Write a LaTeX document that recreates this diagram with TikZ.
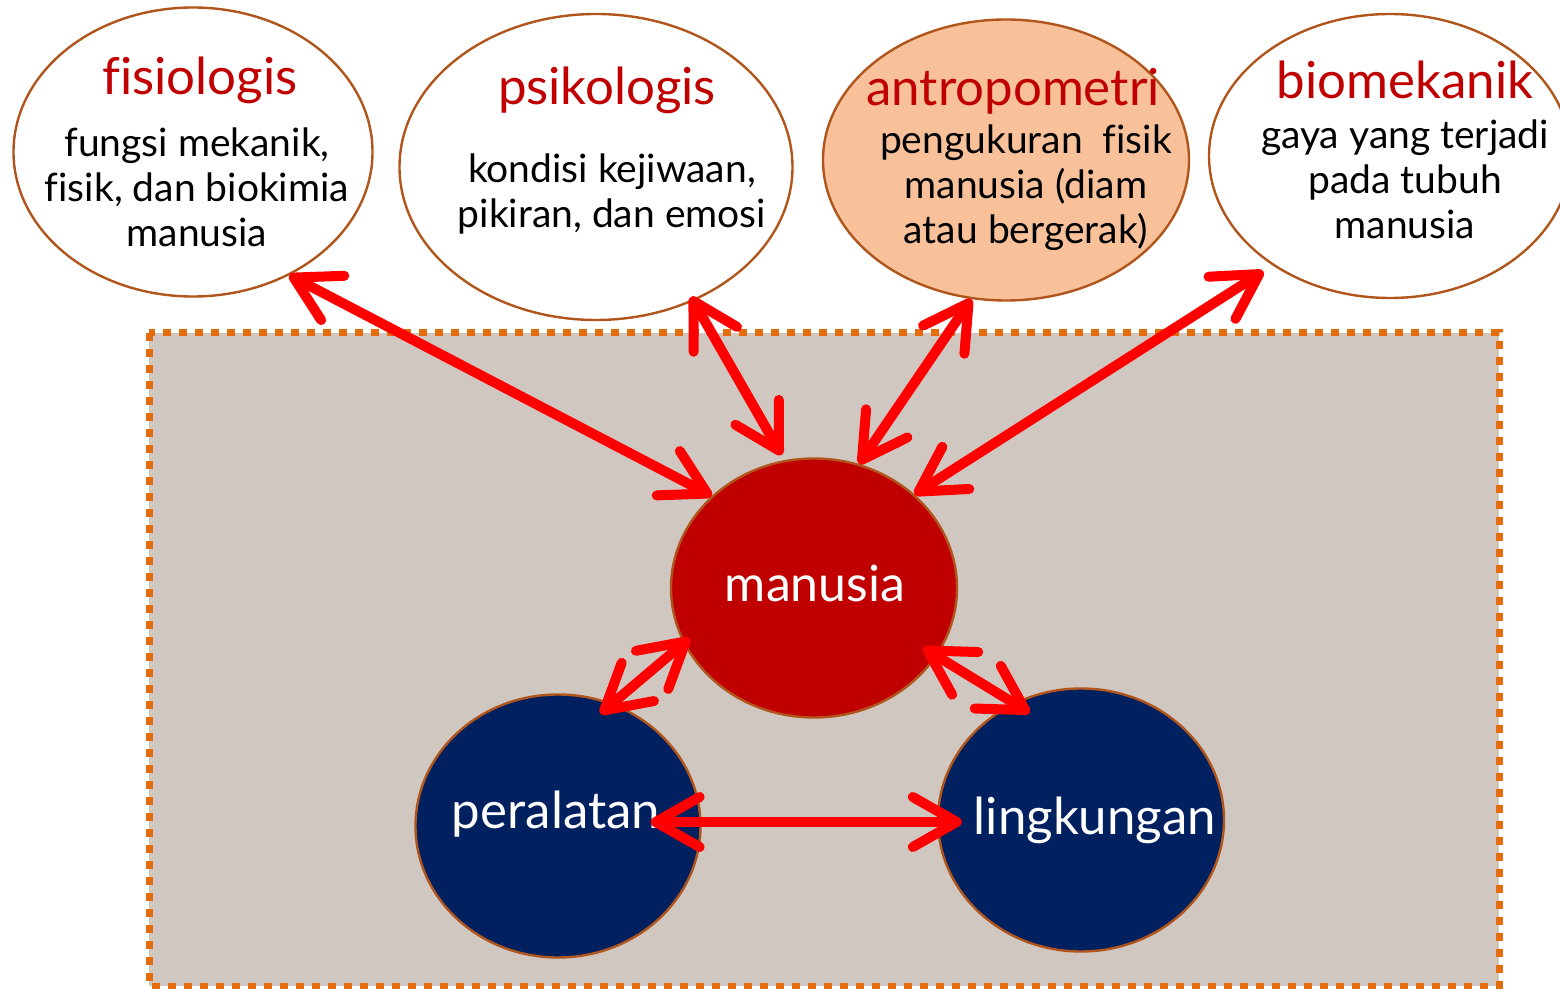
\documentclass[tikz,border=0pt]{standalone}
\usepackage{fontspec}
\setmainfont[Ligatures=NoCommon]{Lato}
\usetikzlibrary{arrows.meta,shapes.geometric}
\definecolor{rim}{HTML}{B0561C}
\definecolor{titlered}{HTML}{C00000}
\definecolor{arrowred}{HTML}{FF0000}
\definecolor{peach}{HTML}{F8C19A}
\definecolor{navy}{HTML}{002060}
\definecolor{panel}{HTML}{D1C7C1}
\definecolor{dots}{HTML}{E46C0A}

\tikzset{
  blob/.style={ellipse, draw=rim, line width=1.2pt, inner sep=0pt},
  head/.style={text=titlered, font=\fontsize{25.5}{30}\selectfont},
  body/.style={align=center, font=\fontsize{19.5}{22.5}\selectfont},
  inner/.style={text=white, font=\fontsize{25}{30}\selectfont},
  link/.style={draw=arrowred, line width=5pt,
    {Straight Barb[length=22pt,width=25pt,round]}-{Straight Barb[length=22pt,width=25pt,round]}}
}

\begin{document}
\begin{tikzpicture}[x=0.5pt, y=-0.5pt]
  \useasboundingbox (0,0) rectangle (1560,989);

  % system panel
  \filldraw[fill=panel, draw=dots, line width=3.5pt, dash pattern=on 4pt off 4pt]
    (149,333) rectangle (1499,986);

  % outer aspects
  \node[blob, fill=white, minimum width=179.5pt, minimum height=144.5pt] (fis) at (193,152) {};
  \node[blob, fill=white, minimum width=196.5pt, minimum height=153pt] (psi) at (596,167) {};
  \node[blob, fill=peach, minimum width=183pt, minimum height=140.5pt] (ant) at (1006,160) {};
  \node[blob, fill=white, minimum width=181pt, minimum height=142pt] (bio) at (1390,156) {};

  \node[head] (fis-title) at (200,80) {fisiologis};
  \node[body] (fis-body) at (197,187) {fungsi mekanik,\\fisik, dan biokimia\\manusia};
  \node[head] (psi-title) at (607,90) {psikologis};
  \node[body] (psi-body) at (612,194) {kondisi kejiwaan,\\pikiran, dan emosi};
  \node[head] (ant-title) at (1013,91) {antropometri};
  \node[body] (ant-body) at (1026,188) {pengukuran\ \ fisik\\manusia (diam\\atau bergerak)};
  \node[head] (bio-title) at (1405,80) {biomekanik};
  \node[body] (bio-body) at (1405,179) {gaya yang terjadi\\pada tubuh\\manusia};

  % work system
  \node[blob, fill=titlered, minimum width=143pt, minimum height=129.5pt] (man) at (814,588) {};
  \node[blob, fill=navy, minimum width=142.5pt, minimum height=131.5pt] (per) at (558,826) {};
  \node[blob, fill=navy, minimum width=143pt, minimum height=131.5pt] (lin) at (1081,820) {};

  \node[inner] (man-label) at (815,583) {manusia};
  \node[inner, font=\fontsize{25.5}{30}\selectfont] (per-label) at (556,814) {peralatan};
  \node[inner, font=\fontsize{25.5}{30}\selectfont] (lin-label) at (1095,820) {lingkungan};

  % relations
  \draw[link] (fis.-52) -- (man.138);
  \draw[link, shorten <=-2.5pt, shorten >=3pt] (psi.-54) -- (man.103);
  \draw[link] (ant.-104) -- (man.70);
  \draw[link, shorten <=5.5pt] (bio.-137) -- (man.43);
  \draw[link, shorten <=-4pt, shorten >=-8pt] (man.203) -- (per.66);
  \draw[link, shorten <=-8pt, shorten >=-9.5pt] (man.-29) -- (lin.120);
  \draw[link, shorten <=-25.5pt, shorten >=-12.5pt] ([yshift=2pt]per.east) -- ([yshift=-1pt]lin.west);
\end{tikzpicture}
\end{document}
